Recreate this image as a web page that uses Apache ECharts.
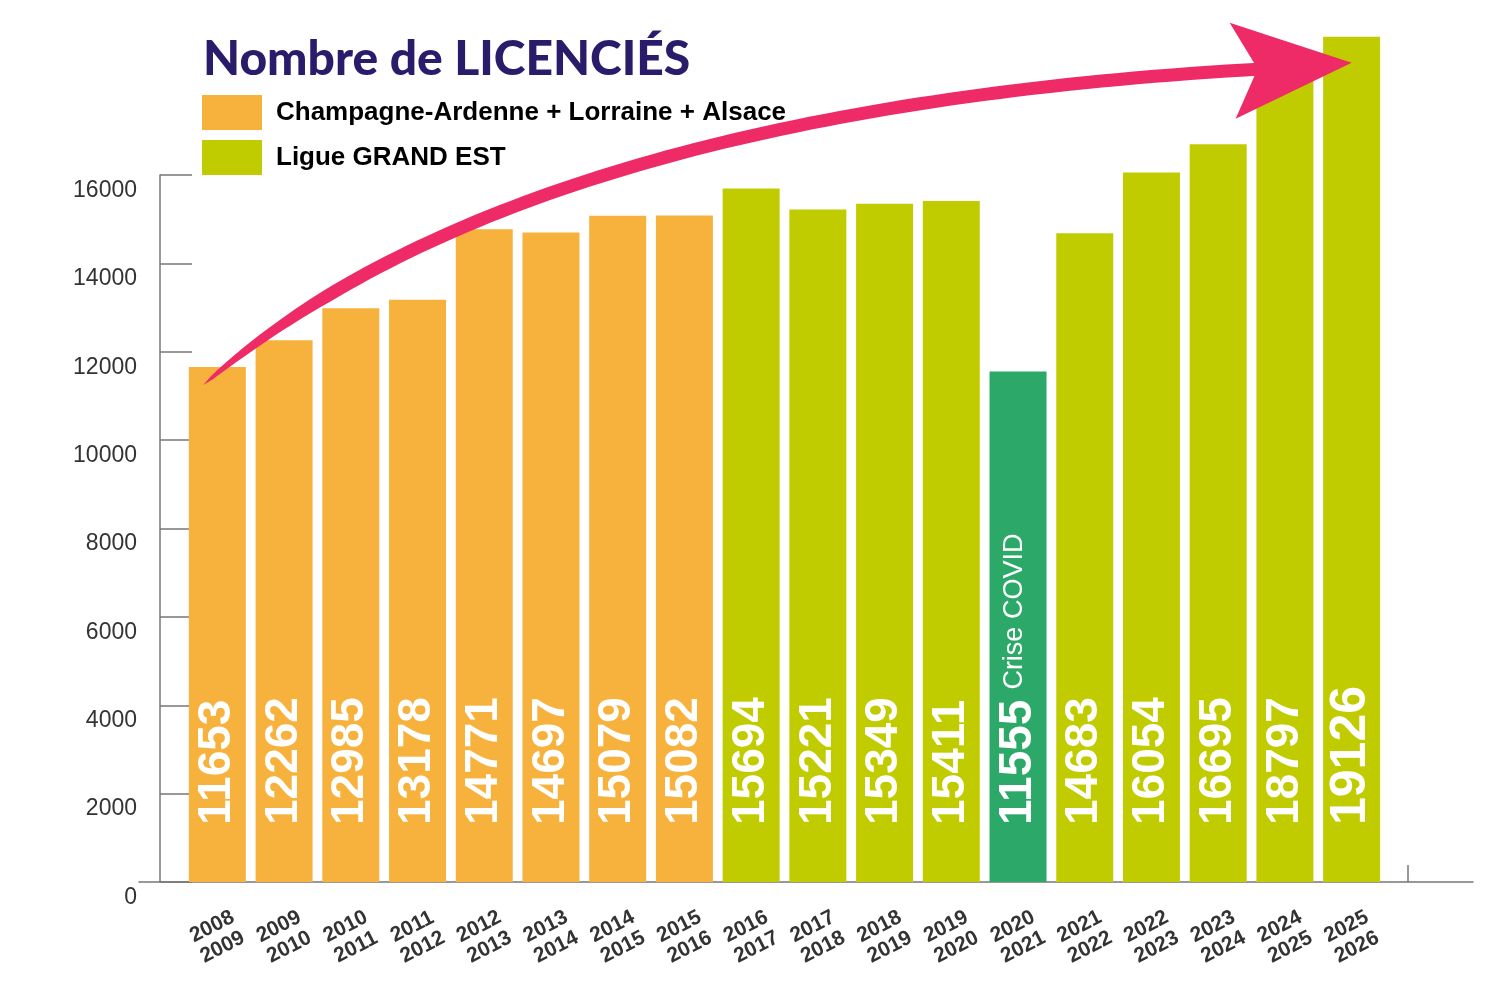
<!DOCTYPE html>
<html lang="fr">
<head>
    <meta charset="UTF-8">
    <title>Nombre de licenciés</title>
    <script src="https://cdn.jsdelivr.net/npm/echarts@6/dist/echarts.min.js"></script>
    <style>
        html, body { margin: 0; padding: 0; background: #fff; }
        #chart { width: 1500px; height: 1000px; }
    </style>
</head>
<body>
<div id="chart"></div>
<script type="text/javascript">
    // saisons (axe x)
    var seasons = ['2008\n2009', '2009\n2010', '2010\n2011', '2011\n2012', '2012\n2013', '2013\n2014',
        '2014\n2015', '2015\n2016', '2016\n2017', '2017\n2018', '2018\n2019', '2019\n2020',
        '2020\n2021', '2021\n2022', '2022\n2023', '2023\n2024', '2024\n2025', '2025\n2026'];
    // Champagne-Ardenne + Lorraine + Alsace (2008-2016)
    var caValues = [11653, 12262, 12985, 13178, 14771, 14697, 15079, 15082];
    // Ligue GRAND EST (2016-2026)
    var geValues = [15694, 15221, 15349, 15411, 11555, 14683, 16054, 16695, 18797, 19126];
    var covidSeason = '2020\n2021';
    var yTicks = [0, 2000, 4000, 6000, 8000, 10000, 12000, 14000, 16000];

    var ORANGE = '#F7B23E', LIME = '#C1CC00', COVID = '#2CA969', PINK = '#EE2A67';
    var nameCA = 'Champagne-Ardenne + Lorraine + Alsace', nameGE = 'Ligue GRAND EST';

    var caData = [], geData = [];
    for (var i = 0; i < seasons.length; i++) {
        caData.push(i < caValues.length ? caValues[i] : null);
        var j = i - caValues.length;
        if (j < 0) { geData.push(null); continue; }
        if (seasons[i] === covidSeason) {
            geData.push({ value: geValues[j], itemStyle: { color: COVID } });
        } else {
            geData.push(geValues[j]);
        }
    }

    var barLabel = {
        show: true,
        position: 'insideBottom',
        distance: 57,
        rotate: 90,
        align: 'left',
        verticalAlign: 'middle',
        color: '#fff',
        fontFamily: 'Liberation Sans',
        fontWeight: 'bold',
        fontSize: 46,
        formatter: function (p) {
            if (p.name === covidSeason) return '{v|' + p.value + '}{c|Crise COVID}';
            if (p.dataIndex === seasons.length - 1) return '{b|' + p.value + '}';
            return '{v|' + p.value + '}';
        },
        rich: {
            v: { fontFamily: 'Liberation Sans', fontWeight: 'bold', fontSize: 46, color: '#fff' },
            b: { fontFamily: 'Liberation Sans', fontWeight: 'bold', fontSize: 50, color: '#fff' },
            c: { fontFamily: 'Liberation Sans', fontWeight: 'normal', fontSize: 27, color: '#fff', padding: [0, 0, 6, 10] }
        }
    };

    var option = {
        animation: false,
        title: {
            text: 'Nombre de LICENCIÉS',
            left: 198, top: 31,
            textStyle: { fontFamily: 'Lato', fontWeight: 900, fontSize: 48, color: '#2A1C6B' }
        },
        legend: {
            data: [nameCA, nameGE],
            orient: 'vertical',
            left: 197, top: 90,
            itemWidth: 60, itemHeight: 35, itemGap: 10,
            icon: 'rect',
            selectedMode: false,
            textStyle: { fontFamily: 'Liberation Sans', fontWeight: 'bold', fontSize: 26, color: '#000', padding: [2, 0, 0, 9] }
        },
        grid: [
            { left: 184, right: 115, top: 175, bottom: 118 },
            // cadre : ligne de base de l'axe x
            { left: 139, right: 27, top: 175, bottom: 118 }
        ],
        xAxis: [
            {
                type: 'category', gridIndex: 0, data: seasons,
                axisLine: { show: false }, axisTick: { show: false },
                axisLabel: {
                    rotate: 27, align: 'center', verticalAlign: 'middle', margin: 55,
                    lineHeight: 23, interval: 0,
                    fontFamily: 'Liberation Sans', fontWeight: 'bold', fontSize: 21, color: '#333'
                }
            },
            {
                type: 'value', gridIndex: 1, min: 0, max: 1334,
                axisLine: { show: true, lineStyle: { color: '#777', width: 1.5 } },
                axisTick: { show: true, inside: true, length: 17, customValues: [1269], lineStyle: { color: '#777', width: 1.5 } },
                axisLabel: { show: false }, splitLine: { show: false }
            }
        ],
        yAxis: [
            {
                type: 'value', gridIndex: 0, min: 0, max: 16000, interval: 2000, offset: 24,
                axisLine: { show: true, lineStyle: { color: '#777', width: 1.5 } },
                axisTick: { show: true, inside: true, length: 32, lineStyle: { color: '#777', width: 1.5 } },
                splitLine: { show: false },
                axisLabel: {
                    margin: 23, verticalAlign: 'top', padding: [4, 0, 0, 0],
                    fontFamily: 'Liberation Sans', fontSize: 23, color: '#333',
                    formatter: function (v) { return yTicks.indexOf(v) >= 0 ? String(v) : ''; }
                }
            },
            { type: 'value', gridIndex: 1, show: false }
        ],
        series: [
            {
                name: nameCA, type: 'bar', xAxisIndex: 0, yAxisIndex: 0,
                data: caData, barWidth: 57, barGap: '-100%', clip: false,
                itemStyle: { color: ORANGE }, label: barLabel, z: 3
            },
            {
                name: nameGE, type: 'bar', xAxisIndex: 0, yAxisIndex: 0,
                data: geData, barWidth: 57, barGap: '-100%', clip: false,
                itemStyle: { color: LIME }, label: barLabel, z: 3
            }
        ]
    };

    var chart = echarts.init(document.getElementById('chart'));
    chart.setOption(option);

    // flèche de tendance, du premier au dernier bâton
    function arrowGraphic() {
        var last = seasons.length - 1;
        var p0 = chart.convertToPixel({ gridIndex: 0 }, [0, caValues[0]]);
        var pN = chart.convertToPixel({ gridIndex: 0 }, [last, geValues[geValues.length - 1]]);
        var start = [p0[0] - 14, p0[1] + 18];
        var tip = [pN[0], pN[1] + 26];
        var notch = [tip[0] - 94, tip[1] + 6];
        var end = [notch[0] + 6, notch[1]];
        var ctrl = [start[0] + 0.3 * (notch[0] - start[0]), notch[1] + 41];
        var upper = [], lower = [];
        var n = 80;
        for (var k = 0; k <= n; k++) {
            var t = k / n, u = 1 - t;
            var x = u * u * start[0] + 2 * t * u * ctrl[0] + t * t * end[0];
            var y = u * u * start[1] + 2 * t * u * ctrl[1] + t * t * end[1];
            var dx = 2 * u * (ctrl[0] - start[0]) + 2 * t * (end[0] - ctrl[0]);
            var dy = 2 * u * (ctrl[1] - start[1]) + 2 * t * (end[1] - ctrl[1]);
            var len = Math.sqrt(dx * dx + dy * dy);
            var nx = -dy / len, ny = dx / len;
            var w = 13 * Math.min(1, Math.sqrt(t / 0.18)) / 2;
            upper.push([x + nx * w, y + ny * w]);
            lower.push([x - nx * w, y - ny * w]);
        }
        var shaft = upper.concat(lower.reverse());
        var head = [tip, [tip[0] - 122, tip[1] - 40], notch, [tip[0] - 116, tip[1] + 56]];
        return [
            { type: 'polygon', shape: { points: shaft }, style: { fill: PINK }, z: 100 },
            { type: 'polygon', shape: { points: head }, style: { fill: PINK }, z: 100 }
        ];
    }
    chart.setOption({ graphic: arrowGraphic() });
</script>
</body>
</html>
